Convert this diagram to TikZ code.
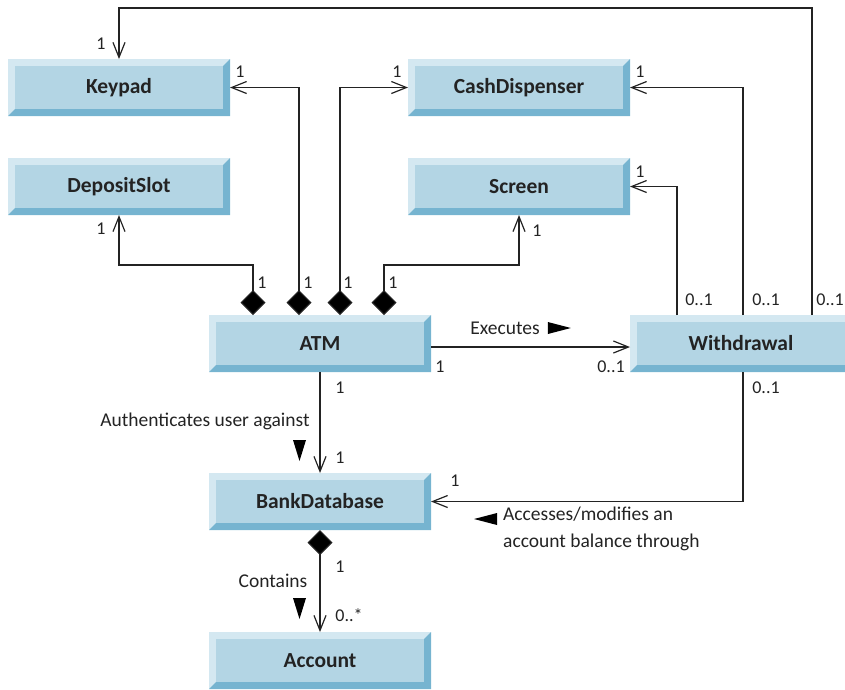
\documentclass[tikz,border=0pt]{standalone}
\usepackage{fontspec}
\setmainfont{Carlito}
\usetikzlibrary{arrows.meta, positioning, calc}
\definecolor{umlface}{RGB}{179,213,228}
\definecolor{umllight}{RGB}{212,232,241}
\definecolor{umldark}{RGB}{118,180,208}
\definecolor{umlline}{RGB}{35,35,35}

\begin{document}
\begin{tikzpicture}[
    x=1pt, y=-1pt,
    cls/.style={rectangle, fill=umllight, minimum width=222pt, minimum height=57pt, inner sep=0pt, outer sep=0pt,
        font=\fontsize{21.5}{24}\selectfont\bfseries, text=umlline,
        path picture={
            \coordinate (bbsw) at (path picture bounding box.south west);
            \coordinate (bbne) at (path picture bounding box.north east);
            \fill[umldark] (bbsw) -| (bbne) -- ([shift={(-7pt,-7pt)}]bbne) |- ([shift={(7pt,7pt)}]bbsw) -- cycle;
            \fill[umlface] ([shift={(7pt,7pt)}]bbsw) rectangle ([shift={(-7pt,-7pt)}]bbne);
        }},
    assoc/.style={draw=umlline, line width=1.2pt, -{Straight Barb[length=15pt,width=12pt]}},
    comp/.style={draw=umlline, line width=1.2pt, {Diamond[length=25pt,width=25pt,fill=black]}-{Straight Barb[length=15pt,width=12pt]}},
    mult/.style={font=\fontsize{18}{20}\selectfont, text=umlline, inner sep=0pt},
    lbl/.style={font=\fontsize{19.5}{27}\selectfont, text=umlline, inner sep=0pt, align=left},
    tri/.style={fill=black},
]
\useasboundingbox (0,0) rectangle (845,689);

% classes
\node[cls] (keypad) at (119,87.5) {Keypad};
\node[cls] (cash) at (519,87.5) {CashDispenser};
\node[cls] (deposit) at (119,186.5) {DepositSlot};
\node[cls] (screen) at (519,186.5) {Screen};
\node[cls] (atm) at (320,343.5) {ATM};
\node[cls] (withdrawal) at (741,343.5) {Withdrawal};
\node[cls] (bank) at (320,501.5) {BankDatabase};
\node[cls] (account) at (320,660.5) {Account};

% ATM parts
\draw[comp] ([xshift=-21pt]atm.north) -- ([xshift=-21pt]atm.north |- keypad.east) -- (keypad.east);
\draw[comp] ([xshift=20pt]atm.north) -- ([xshift=20pt]atm.north |- cash.west) -- (cash.west);
\draw[comp] ([xshift=-67pt]atm.north) -- ++(0,-50) -| (deposit.south);
\draw[comp] ([xshift=64pt]atm.north) -- ++(0,-50) -| (screen.south);

\node[mult] (m1) at (240,72) {1};
\node[mult] (m2) at (397,72) {1};
\node[mult] (m3) at (101,229) {1};
\node[mult] (m4) at (537,231) {1};
\node[mult] (m5) at (262,283) {1};
\node[mult] (m6) at (308,283) {1};
\node[mult] (m7) at (348,283) {1};
\node[mult] (m8) at (393,283) {1};

% Withdrawal uses
\draw[assoc] ([xshift=-64pt]withdrawal.north) |- (screen.east);
\draw[assoc] ([xshift=2pt]withdrawal.north) |- (cash.east);
\draw[assoc] ([xshift=71pt]withdrawal.north) -- ++(0,-307) -| (keypad.north);
\draw[assoc] ([xshift=2pt]withdrawal.south) |- (bank.east);

\node[mult] (m9) at (640,72) {1};
\node[mult] (m10) at (640,172) {1};
\node[mult] (m11) at (101,44) {1};
\node[mult] (m12) at (699,300) {0..1};
\node[mult] (m13) at (766,300) {0..1};
\node[mult, anchor=east] (m14) at (844,300) {0..1};
\node[mult] (m15) at (766,388) {0..1};
\node[mult] (m16) at (455,481) {1};

% executes
\draw[assoc] ([yshift=-3.5pt]atm.east) -- ([yshift=-3.5pt]withdrawal.west);
\node[lbl] (exec) at (505,328) {Executes};
\fill[tri] ($(exec.east)+(8,-6)$) -- ++(0,12) -- ++(23,-6) -- cycle;
\node[mult] (m17) at (440,367) {1};
\node[mult] (m18) at (611,367) {0..1};

% authenticates
\draw[assoc] (atm.south) -- (bank.north);
\node[lbl] (auth) at (205,421) {Authenticates user against};
\fill[tri] (293,440) -- ++(13,0) -- ++(-6.5,21) -- cycle;
\node[mult] (m19) at (340,388) {1};
\node[mult] (m20) at (340,458) {1};

% accesses
\node[lbl, anchor=north west] (acc) at (503,507) {Accesses/modifies an\\account balance through};
\fill[tri] (474,519) -- ++(23,-6) -- ++(0,12) -- cycle;

% contains
\draw[comp] (bank.south) -- (account.north);
\node[lbl] (cont) at (273,581) {Contains};
\fill[tri] (293,598) -- ++(13,0) -- ++(-6.5,21) -- cycle;
\node[mult] (m21) at (340,567) {1};
\node[mult] (m22) at (349,615) {0..*};

\end{tikzpicture}
\end{document}
